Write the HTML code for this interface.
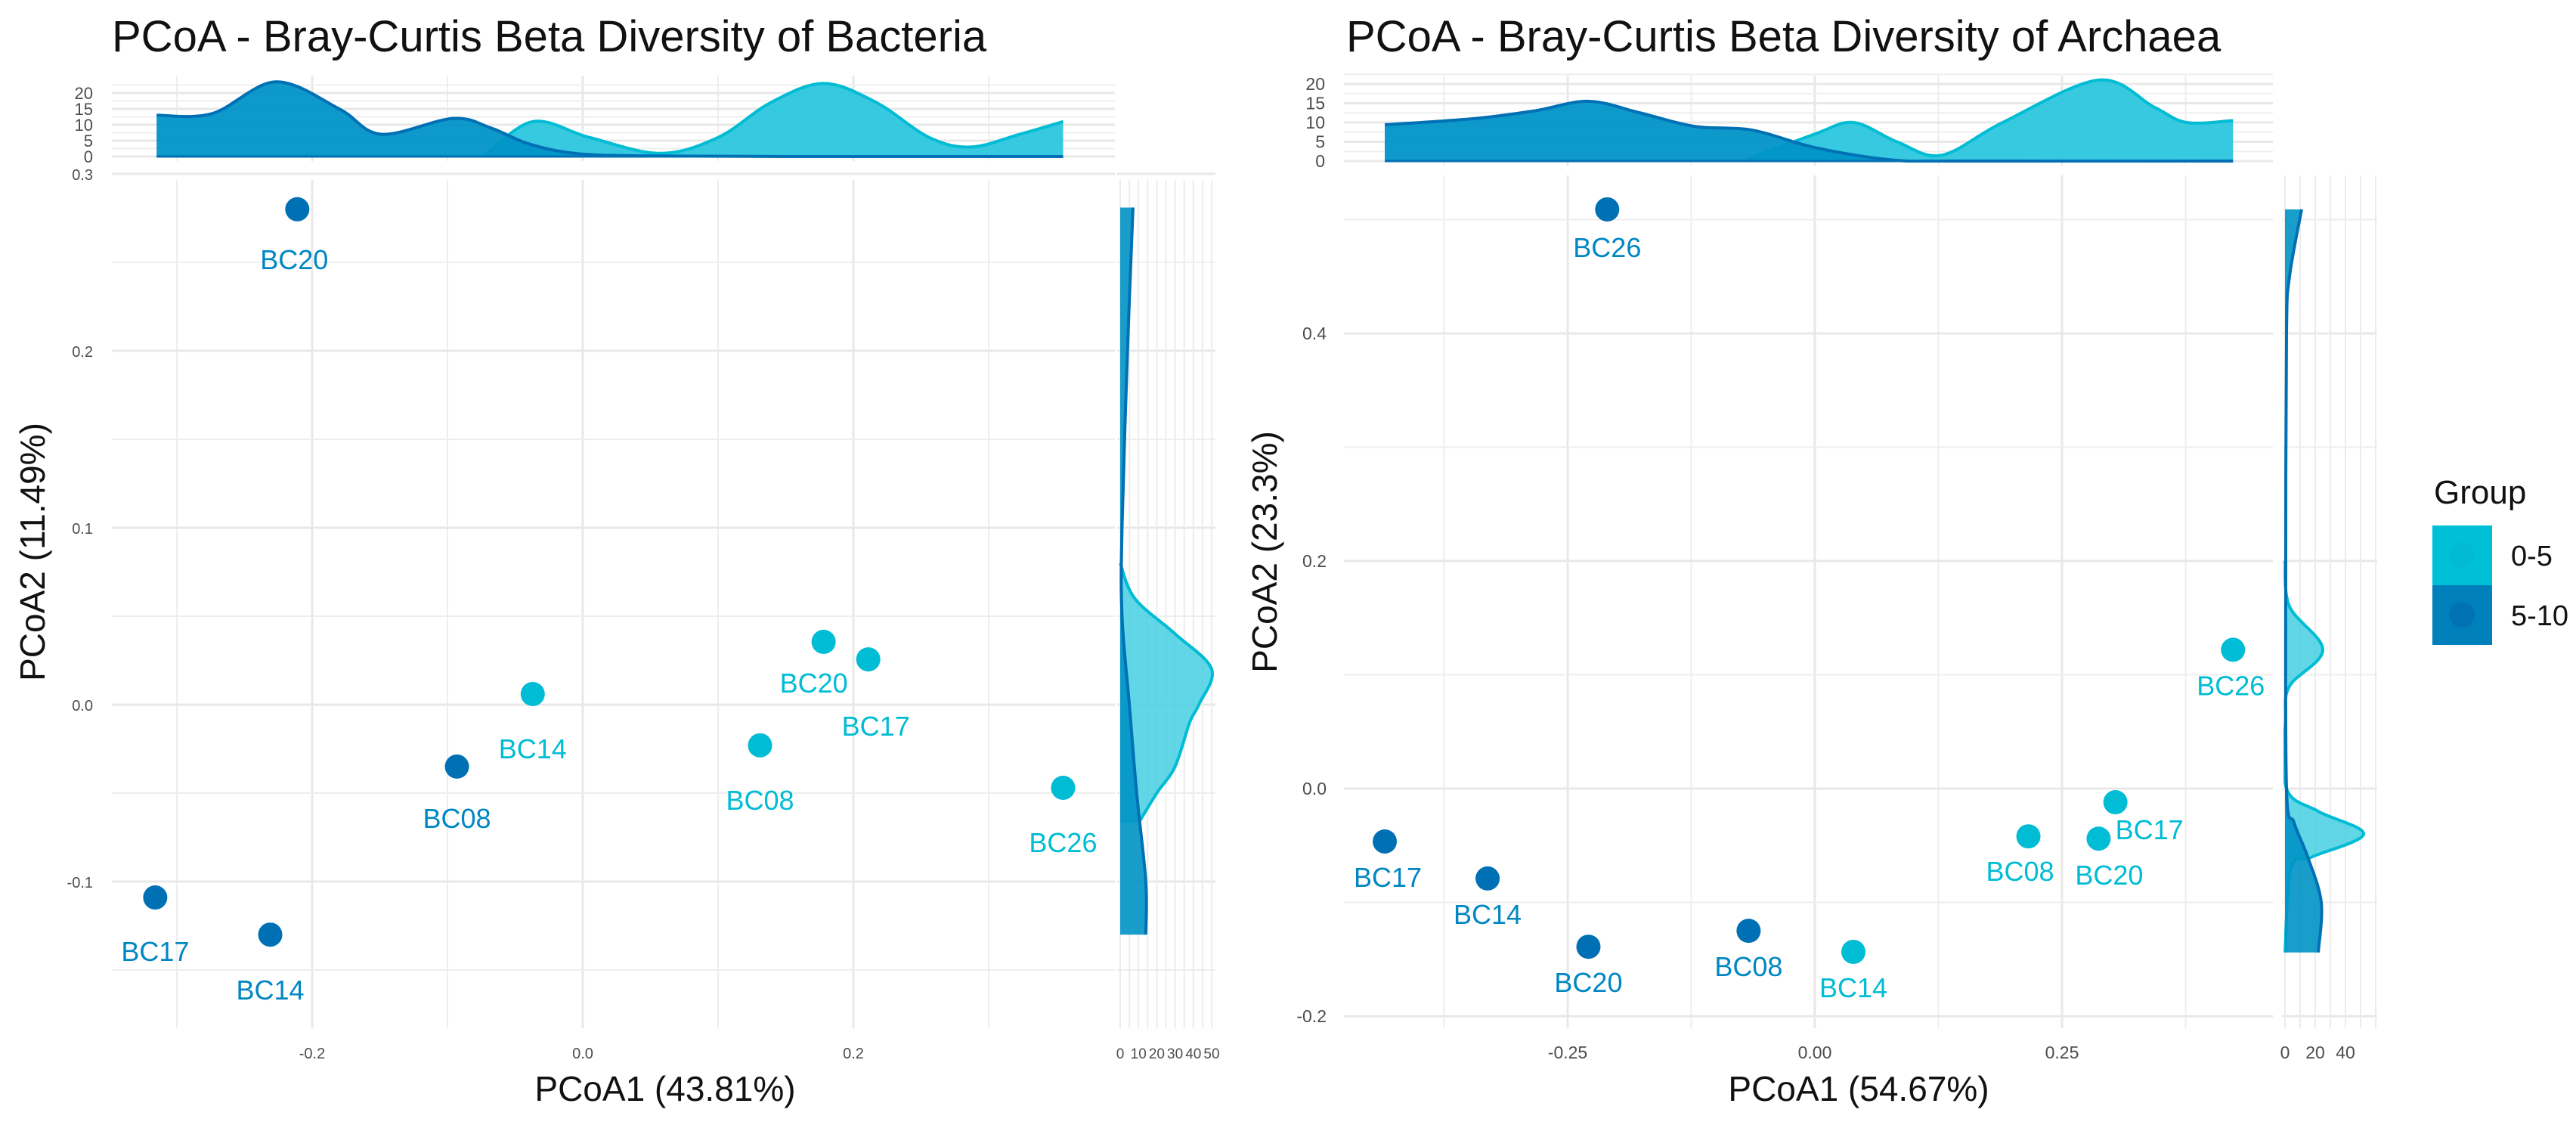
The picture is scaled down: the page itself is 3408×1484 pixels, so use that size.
<!DOCTYPE html>
<html><head><meta charset="utf-8"><style>
html,body{margin:0;padding:0;background:#fff;}
svg{display:block;font-family:"Liberation Sans",Arial,sans-serif;}
</style></head><body>
<svg id="chart" width="3408" height="1484" viewBox="0 0 3408 1484" xmlns="http://www.w3.org/2000/svg">
<rect x="0" y="0" width="3408" height="1484" fill="#fff"/>
<defs id="defs"></defs>
<g id="root"></g>
</svg>
<script>
// ---------- Bacteria data ----------
const bacSamples = ["BC20","BC08","BC14","BC20","BC17","BC08","BC26","BC17","BC14"];
const bacGroups  = ["5-10","5-10","0-5","0-5","0-5","0-5","0-5","5-10","5-10"];
const bacPC1 = [-0.211,-0.093,-0.037,0.178,0.211,0.131,0.355,-0.316,-0.231];
const bacPC2 = [0.280,-0.035,0.006,0.0355,0.0256,-0.023,-0.047,-0.109,-0.130];
const bacXTicks = [-0.2,0.0,0.2];
const bacXTickLabels = ["-0.2","0.0","0.2"];
const bacYTicks = [-0.1,0.0,0.1,0.2,0.3];
const bacYTickLabels = ["-0.1","0.0","0.1","0.2","0.3"];
const bacTopDarkX = [-0.315,-0.274,-0.227,-0.18,-0.149,-0.096,-0.068,-0.04,-0.006,0.044,0.15,0.355];
const bacTopDarkD = [13,13.5,23.5,15,7,12,9,4,1,0.2,0,0];
const bacTopLightX = [-0.073,-0.037,0.005,0.057,0.1,0.139,0.178,0.217,0.256,0.287,0.323,0.355];
const bacTopLightD = [0,11,6,1,6,17,23,17,6,3,7,11];
const bacSideDarkY = [0.281,0.2,0.1,0.05,0.0,-0.05,-0.1,-0.13];
const bacSideDarkD = [7,4,1,1,5,9,14,14];
const bacSideLightY = [0.08,0.06,0.04,0.02,0.0,-0.01,-0.035,-0.05,-0.067];
const bacSideLightD = [0,8,30,50,43,38,30,20,10];

// ---------- Archaea data ----------
const arcSamples = ["BC26","BC17","BC14","BC20","BC08","BC14","BC08","BC20","BC17","BC26"];
const arcGroups  = ["5-10","5-10","5-10","5-10","5-10","0-5","0-5","0-5","0-5","0-5"];
const arcPC1 = [-0.210,-0.435,-0.331,-0.229,-0.067,0.039,0.216,0.287,0.304,0.423];
const arcPC2 = [0.509,-0.0465,-0.079,-0.139,-0.125,-0.1435,-0.042,-0.044,-0.012,0.122];
const arcXTicks = [-0.25,0.0,0.25];
const arcXTickLabels = ["-0.25","0.00","0.25"];
const arcYTicks = [-0.2,0.0,0.2,0.4];
const arcYTickLabels = ["-0.2","0.0","0.2","0.4"];
const arcTopDarkX = [-0.435,-0.345,-0.284,-0.229,-0.177,-0.122,-0.063,0.0,0.078,0.15,0.423];
const arcTopDarkD = [9.4,11,13,15.5,12.5,9,8,3.5,0.3,0,0];
const arcTopLightX = [-0.072,0.0,0.039,0.083,0.128,0.19,0.287,0.343,0.376,0.423];
const arcTopLightD = [0,7,10,5,1.5,10,21,14,10,10.5];
const arcSideDarkY = [0.509,0.45,0.4,0.2,0.0,-0.03,-0.06,-0.1,-0.144];
const arcSideDarkD = [11,3,1,0.5,1,6,15,24,22];
const arcSideLightY = [0.2,0.16,0.122,0.09,0.06,0.0,-0.02,-0.04,-0.06,-0.07,-0.144];
const arcSideLightD = [0,3,25,3,0.3,1,22,52,18,4,0];

const legendItems = ["0-5","5-10"];

const NS="http://www.w3.org/2000/svg";
const root=document.getElementById('root');
const defs=document.getElementById('defs');
const LIGHT="#00bcd4", DARK="#0070b5", DARKLBL="#0087c2";
function el(tag,attrs,parent){const e=document.createElementNS(NS,tag);for(const k in attrs)e.setAttribute(k,attrs[k]);(parent||root).appendChild(e);return e;}
function txt(s,attrs,parent){const e=el('text',attrs,parent);e.textContent=s;return e;}
function smooth(pts){
  let d="M"+pts[0][0]+","+pts[0][1];
  for(let i=0;i<pts.length-1;i++){
    const p0=pts[Math.max(0,i-1)],p1=pts[i],p2=pts[i+1],p3=pts[Math.min(pts.length-1,i+2)];
    const c1=[p1[0]+(p2[0]-p0[0])/6,p1[1]+(p2[1]-p0[1])/6];
    const c2=[p2[0]-(p3[0]-p1[0])/6,p2[1]-(p3[1]-p1[1])/6];
    d+=" C"+c1[0]+","+c1[1]+" "+c2[0]+","+c2[1]+" "+p2[0]+","+p2[1];
  }
  return d;
}

function panel(cfg){
  const g=el('g',{});
  
  
  const X=v=>cfg.x0+v*cfg.xs, Y=v=>cfg.y0-v*cfg.ys;
  const cpT=el('clipPath',{id:cfg.name+'-ct'},defs);
  el('rect',{x:0,y:0,width:3408,height:cfg.mBase+2},cpT);
  const cpS=el('clipPath',{id:cfg.name+'-cs'},defs);
  el('rect',{x:cfg.sx0-2,y:0,width:400,height:1484},cpS);
  const grid=el('g',{},g);
  
  
  cfg.xMinor.forEach(v=>{el('line',{x1:X(v),x2:X(v),y1:cfg.top,y2:cfg.bottom,stroke:"#eeeeee","stroke-width":2},grid);
    el('line',{x1:X(v),x2:X(v),y1:cfg.mTop,y2:cfg.mBase+6,stroke:"#eeeeee","stroke-width":2},grid);});
  cfg.xTicks.forEach(v=>{el('line',{x1:X(v),x2:X(v),y1:cfg.top,y2:cfg.bottom,stroke:"#e8e8e8","stroke-width":3},grid);
    el('line',{x1:X(v),x2:X(v),y1:cfg.mTop,y2:cfg.mBase+6,stroke:"#e8e8e8","stroke-width":3},grid);});
  cfg.yMinor.forEach(v=>{el('line',{x1:cfg.left,x2:cfg.right,y1:Y(v),y2:Y(v),stroke:"#eeeeee","stroke-width":2},grid);
    el('line',{x1:cfg.sx0-4,x2:cfg.sRight,y1:Y(v),y2:Y(v),stroke:"#eeeeee","stroke-width":2},grid);});
  cfg.yTicks.forEach(v=>{el('line',{x1:cfg.left,x2:cfg.right,y1:Y(v),y2:Y(v),stroke:"#e8e8e8","stroke-width":3},grid);
    el('line',{x1:cfg.sx0-4,x2:cfg.sRight,y1:Y(v),y2:Y(v),stroke:"#e8e8e8","stroke-width":3},grid);});
  for(let d=0;d<=22.5;d+=2.5){el('line',{x1:cfg.left,x2:cfg.right,y1:cfg.mBase-d*cfg.ms,y2:cfg.mBase-d*cfg.ms,stroke:d%5===0?"#e8e8e8":"#efefef","stroke-width":d%5===0?3:2},grid);}
  for(let d=0;d<=cfg.sMax;d+=cfg.sGridStep){el('line',{x1:cfg.sx0+d*cfg.ss,x2:cfg.sx0+d*cfg.ss,y1:cfg.top,y2:cfg.bottom,stroke:"#ececec","stroke-width":2},grid);}
  const mt=el('g',{"clip-path":"url(#"+cfg.name+"-ct)"},g);
  
  
  [[cfg.tLX,cfg.tLD,LIGHT,"#2cc6dd",0.95],[cfg.tDX,cfg.tDD,DARK,"#0093c6",0.95]].forEach(([xs,ds,st,fi,op],k)=>{
    const pts=xs.map((v,i)=>[X(v),cfg.mBase-ds[i]*cfg.ms]);
    const line=smooth(pts);
    const a=el('path',{d:line+" L"+pts[pts.length-1][0]+","+cfg.mBase+" L"+pts[0][0]+","+cfg.mBase+" Z",fill:fi,"fill-opacity":op,stroke:"none"},mt);
    
    
    el('path',{d:line,fill:"none",stroke:st,"stroke-width":4},mt);
    el('line',{x1:pts[0][0],x2:pts[pts.length-1][0],y1:cfg.mBase,y2:cfg.mBase,stroke:st,"stroke-width":3},mt);
  });
  const ms=el('g',{"clip-path":"url(#"+cfg.name+"-cs)"},g);
  
  
  [[cfg.sLY,cfg.sLD,LIGHT,"#45cfe2",0.85],[cfg.sDY,cfg.sDD,DARK,"#0093c6",0.9]].forEach(([ys,ds,st,fi,op],k)=>{
    const pts=ys.map((v,i)=>[cfg.sx0+ds[i]*cfg.ss,Y(v)]);
    const line=smooth(pts);
    const a=el('path',{d:line+" L"+cfg.sx0+","+pts[pts.length-1][1]+" L"+cfg.sx0+","+pts[0][1]+" Z",fill:fi,"fill-opacity":op,stroke:"none"},ms);
    
    
    el('path',{d:line,fill:"none",stroke:st,"stroke-width":4},ms);
  });
  const pg=el('g',{},g);
  
  
  cfg.pc1.forEach((v,i)=>{
    const light=cfg.groups[i]==="0-5";
    const c=el('circle',{cx:X(v),cy:Y(cfg.pc2[i]),r:16,fill:light?LIGHT:DARK},pg);
    
    
    const off=cfg.lblOff()[i];
    const t=txt(cfg.samples[i],{x:X(v)+off[0],y:Y(cfg.pc2[i])+off[1]+13,"text-anchor":"middle","font-size":36,fill:light?LIGHT:DARKLBL},pg);
    
    
  });
  const ax=el('g',{fill:"#4d4d4d"},g);
  
  
  cfg.xTicks.forEach((v,i)=>txt(cfg.xTL[i],{x:X(v),y:1400,"text-anchor":"middle","font-size":cfg.tfs},ax));
  cfg.yTicks.forEach((v,i)=>txt(cfg.yTL[i],{x:cfg.yLabX,y:Y(v)+8,"text-anchor":"end","font-size":cfg.tfs},ax));
  [0,5,10,15,20].forEach(d=>txt(String(d),{x:cfg.mLabX,y:cfg.mBase-d*cfg.ms+8,"text-anchor":"end","font-size":cfg.mfs},ax));
  cfg.sTicks.forEach(d=>txt(String(d),{x:cfg.sx0+d*cfg.ss,y:1400,"text-anchor":"middle","font-size":cfg.sfs},ax));
  const t1=txt(cfg.title,{x:cfg.titleX,y:68,"font-size":58,fill:"#111"},g);
  
  
  const t2=txt(cfg.xTitle,{x:cfg.xTitleX,y:1456,"text-anchor":"middle","font-size":46,fill:"#111"},g);
  
  
  const t3=txt(cfg.yTitle,{x:0,y:0,"text-anchor":"middle","font-size":46,fill:"#111",transform:"translate("+(cfg.yTitleX+16)+",730) rotate(-90)"},g);
  
  
}

function bacLabelOffsets(){return [[-4,66],[0,68],[0,72],[-13,54],[10,88],[0,72],[0,72],[0,71],[0,73]];}
function arcLabelOffsets(){return [[0,50],[4,47],[0,47],[0,47],[0,47],[0,47],[-11,46],[14,48],[45,36],[-3,47]];}

panel({name:"bacteria-panel",x0:771,xs:1790,y0:932,ys:2340,left:148,right:1475,top:238,bottom:1360,
  mTop:100,mBase:207,ms:4.2,sx0:1482,ss:2.42,sMax:50,sGridStep:5,sRight:1608,sTicks:[0,10,20,30,40,50],
  xTicks:bacXTicks,xTL:bacXTickLabels,xMinor:[-0.3,-0.1,0.1,0.3],
  yTicks:bacYTicks,yTL:bacYTickLabels,yMinor:[-0.15,-0.05,0.05,0.15,0.25],
  tLX:bacTopLightX,tLD:bacTopLightD,tDX:bacTopDarkX,tDD:bacTopDarkD,
  sLY:bacSideLightY,sLD:bacSideLightD,sDY:bacSideDarkY,sDD:bacSideDarkD,
  pc1:bacPC1,pc2:bacPC2,groups:bacGroups,samples:bacSamples,
  lblOff:bacLabelOffsets,
  yLabX:123,mLabX:123,tfs:20,mfs:22,sfs:19,
  title:"PCoA - Bray-Curtis Beta Diversity of Bacteria",titleX:148,
  xTitle:"PCoA1 (43.81%)",xTitleX:880,yTitle:"PCoA2 (11.49%)",yTitleX:43});

panel({name:"archaea-panel",x0:2401,xs:1308,y0:1043,ys:1505,left:1778,right:3007,top:232,bottom:1360,
  mTop:100,mBase:213,ms:5.1,sx0:3023,ss:2,sMax:60,sGridStep:10,sRight:3145,sTicks:[0,20,40],
  xTicks:arcXTicks,xTL:arcXTickLabels,xMinor:[-0.375,-0.125,0.125,0.375],
  yTicks:arcYTicks,yTL:arcYTickLabels,yMinor:[-0.1,0.1,0.3,0.5],
  tLX:arcTopLightX,tLD:arcTopLightD,tDX:arcTopDarkX,tDD:arcTopDarkD,
  sLY:arcSideLightY,sLD:arcSideLightD,sDY:arcSideDarkY,sDD:arcSideDarkD,
  pc1:arcPC1,pc2:arcPC2,groups:arcGroups,samples:arcSamples,
  lblOff:arcLabelOffsets,
  yLabX:1755,mLabX:1753,tfs:23,mfs:23,sfs:23,
  title:"PCoA - Bray-Curtis Beta Diversity of Archaea",titleX:1781,
  xTitle:"PCoA1 (54.67%)",xTitleX:2459,yTitle:"PCoA2 (23.3%)",yTitleX:1673});

const lg=el('g',{});


const lt=txt("Group",{x:3220,y:666,"font-size":44,fill:"#111"},lg);


legendItems.forEach((name,i)=>{
  const e=el('g',{},lg);
  
  
  const y=695+i*79;
  el('rect',{x:3218,y:y,width:79,height:79,fill:i===0?"#00c0d8":"#0080bb"},e);
  el('circle',{cx:3257,cy:y+39,r:17,fill:i===0?"#00bbd2":"#0072b4"},e);
  txt(name,{x:3322,y:y+53,"font-size":38,fill:"#111"},e);
});
</script>
</body></html>
